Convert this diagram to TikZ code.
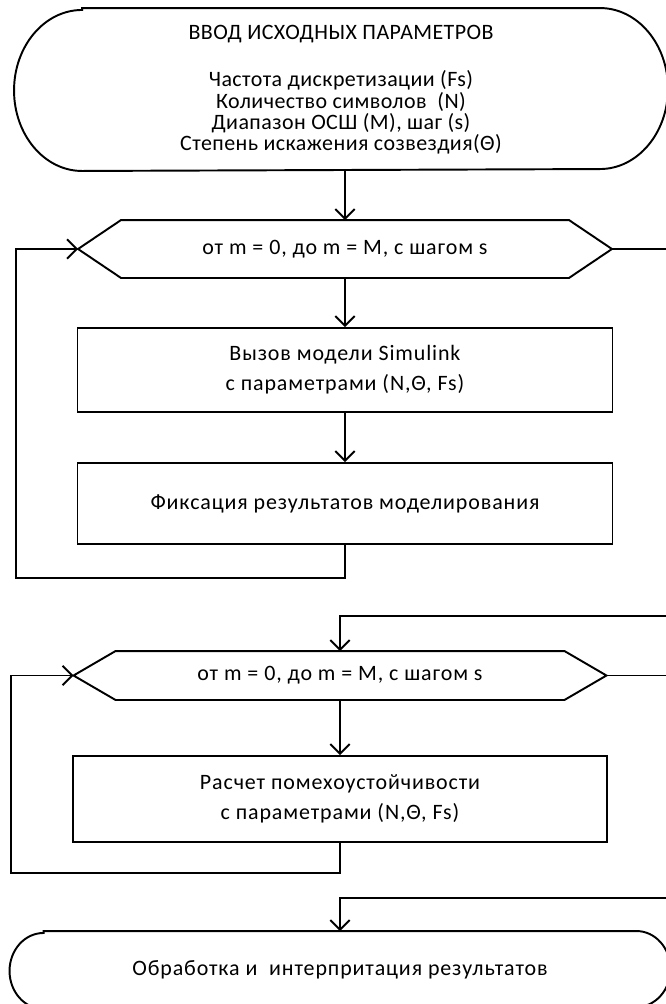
\documentclass[tikz,border=0pt]{standalone}
\usepackage{fontspec}
\setmainfont[LetterSpace=4]{Carlito}
\newfontfamily\inpfont[LetterSpace=2]{Carlito}
\usetikzlibrary{arrows.meta, calc}

\tikzset{
  every picture/.style={line width=1.1pt},
  txt/.style={font=\fontsize{12.5}{17}\selectfont, align=center, inner sep=0pt},
  blk/.style={txt, draw, minimum width=10.7cm, minimum height=#1},
  hexa/.style={txt, minimum width=8.92cm, minimum height=#1},
  arrow/.style={-{Straight Barb[length=5.5pt, width=11pt]}},
}

% terminal: flat top and bottom, elliptic ends
\newcommand{\drawterm}[3]{%
  \draw ([xshift=#2]#1.north west) -- ([xshift=-#2]#1.north east)
    arc[start angle=90, end angle=-90, x radius=#2, y radius=#3]
    -- ([xshift=#2]#1.south west)
    arc[start angle=270, end angle=90, x radius=#2, y radius=#3] -- cycle;}

% loop header: pointed ends on both sides
\newcommand{\drawhex}[2]{%
  \coordinate (#1-w) at ([xshift=-#2]#1.west);
  \coordinate (#1-e) at ([xshift=#2]#1.east);
  \draw (#1.north west) -- (#1.north east) -- (#1-e) -- (#1.south east)
    -- (#1.south west) -- (#1-w) -- cycle;}

\begin{document}
\begin{tikzpicture}
  \useasboundingbox (0,0) rectangle (13.32,-20.08);

  % input parameters
  \node[txt, font=\inpfont\fontsize{12.5}{12}\selectfont, minimum width=13.04cm, minimum height=3.22cm] (inp) at (6.82,-1.79)
    {ВВОД ИСХОДНЫХ ПАРАМЕТРОВ\\[15pt]
     Частота дискретизации (Fs)\\
     Количество символов~~(N)\\
     Диапазон ОСШ (М), шаг (s)\\
     Степень искажения созвездия(Θ)};
  \drawterm{inp}{1.36cm}{1.61cm}

  % first loop: simulation
  \node[hexa=1.12cm] (loopa) at (6.9,-4.98) {от m = 0, до m = M, с шагом s};
  \drawhex{loopa}{0.86cm}
  \node[blk=1.68cm] (sim) at (6.9,-7.4) {Вызов модели Simulink\\с параметрами (N,Θ, Fs)};
  \node[blk=1.62cm] (fix) at (6.9,-10.07) {Фиксация результатов моделирования};

  \coordinate (ra) at (0.32,-11.56);
  \coordinate (exa) at (13.4,-4.98);

  \draw[arrow] (loopa.north |- inp.south) -- (loopa.north);
  \draw[arrow] (loopa) -- (sim);
  \draw[arrow] (sim) -- (fix);
  \draw[arrow] (fix.south) |- (ra) |- (loopa-w);
  \draw (loopa-e) -- (exa);

  % second loop: noise immunity
  \node[hexa=0.94cm, minimum width=8.94cm] (loopb) at (6.8,-13.51) {от m = 0, до m = M, с шагом s};
  \drawhex{loopb}{0.84cm}
  \node[blk=1.72cm, minimum width=10.68cm] (calc) at (6.8,-15.98) {Расчет помехоустойчивости\\с параметрами (N,Θ, Fs)};

  \coordinate (ina) at (13.4,-12.32);
  \coordinate (exb) at (13.4,-13.51);
  \coordinate (rb) at (0.22,-17.46);
  \coordinate (inb) at (13.4,-17.96);

  \draw[arrow] (ina) -| (loopb.north);
  \draw[arrow] (loopb) -- (calc);
  \draw[arrow] (calc.south) |- (rb) |- (loopb-w);
  \draw (loopb-e) -- (exb);

  % results
  \node[txt, minimum width=13.18cm, minimum height=1.52cm] (res) at (6.8,-19.4) {Обработка и~~интерпритация результатов};
  \drawterm{res}{0.68cm}{0.76cm}
  \draw[arrow] (inb) -| (res.north);
\end{tikzpicture}
\end{document}
